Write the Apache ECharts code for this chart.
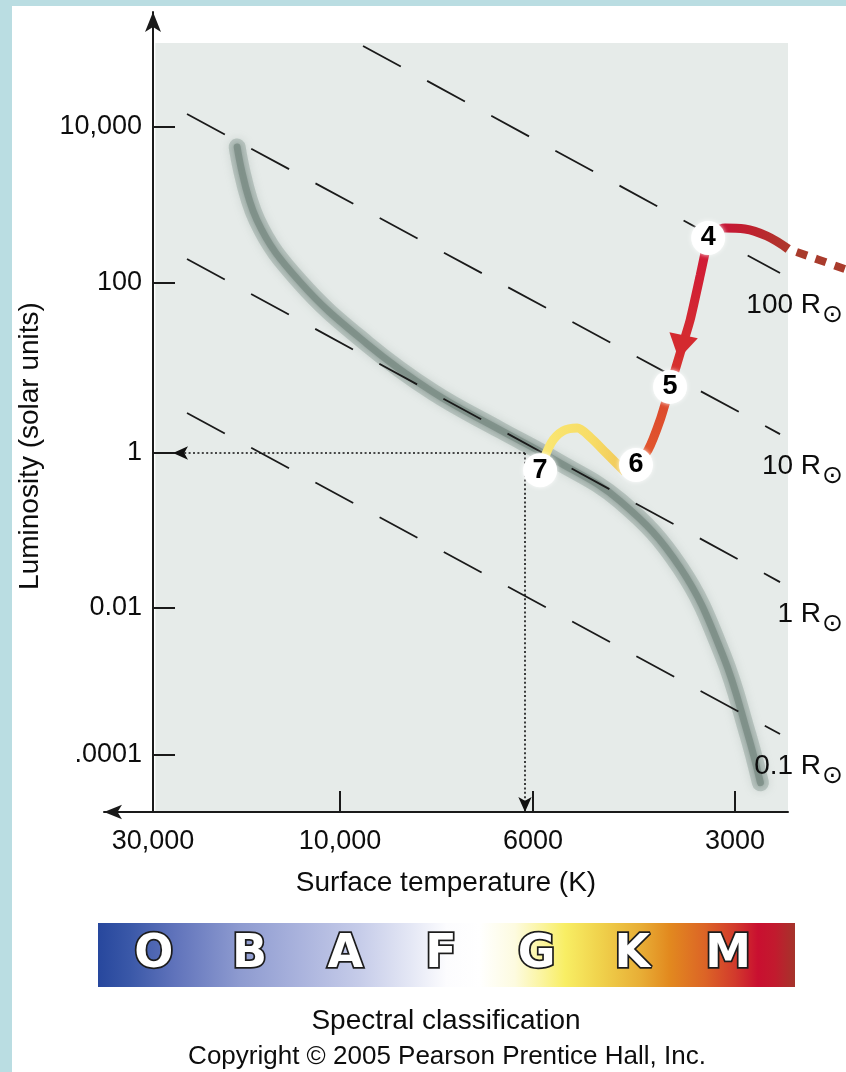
<!DOCTYPE html>
<html>
<head>
<meta charset="utf-8">
<script src="https://cdn.jsdelivr.net/npm/echarts@6.0.0/dist/echarts.min.js"></script>
<style>
  html, body { margin: 0; padding: 0; background: #fff; }
  #frame { position: absolute; left: 0; top: 0; width: 846px; height: 1072px; box-sizing: border-box;
           border-left: 12px solid #badde2; border-top: 6px solid #badde2; }
  #chart { position: absolute; left: 0; top: 0; width: 846px; height: 1072px; }
</style>
</head>
<body>
<div id="frame"></div>
<div id="chart"></div>
<script>
// axis ticks
const tempTicks = [30000, 10000, 6000, 3000];
const tempTickLabels = ['30,000', '10,000', '6000', '3000'];
const lumTicks = [10000, 100, 1, 0.01, 0.0001];
const lumTickLabels = ['10,000', '100', '1', '0.01', '.0001'];

// main sequence band (K, solar units)
const mainSeqT = [18300, 16300, 12650, 9310, 7820, 6550, 5600, 4450, 3620, 3130, 2870, 2750];
const mainSeqL = [5540, 642, 103, 19.2, 5.2, 1.87, 0.84, 0.24, 0.033, 0.0023, 0.000187, 0.000042];

// lines of constant radius (straight in the figure)
const radiusLabels = ['100 R', '10 R', '1 R', '0.1 R'];
const radiusStartT = [9410, 24570, 24570, 24570];
const radiusStartL = [109300, 14680, 203, 2.96];
const radiusEndT = [2571, 2571, 2571, 2571];
const radiusEndL = [134, 1.67, 0.0216, 0.000193];

// evolutionary track, stages 3 -> 7
const track3T = [2500, 2040];
const track3L = [273, 147];
const track34T = [2500, 2690, 2900, 3105, 3290];
const track34L = [273, 400, 493, 507, 378];
const track45T = [3290, 3380, 3500, 3610, 3750];
const track45L = [378, 127, 36.7, 16.3, 6.0];
const track56T = [3750, 3880, 4045, 4215];
const track56L = [6.0, 2.45, 1.08, 0.70];
const track67T = [4376, 4670, 4934, 5159, 5413, 5640, 5857];
const track67L = [0.57, 1.0, 1.54, 1.97, 1.82, 1.31, 0.60];
const arrowT = [3610];
const arrowL = [17.7];

const stageT = [3290, 3750, 4215, 5857];
const stageL = [378, 6.0, 0.70, 0.60];
const stageLabels = ['4', '5', '6', '7'];

// dotted guide to the axes (Sun-like star)
const guideT = 6130;
const guideL = 1;

const spectralClasses = ['O', 'B', 'A', 'F', 'G', 'K', 'M'];

// the figure's axes are not true log scales: the labelled ticks sit at these axis units
const tempTickPos = [0, 0.964, 1.959, 3.0];
const lumTickPos = [4.0, 2.012, -0.155, -2.13, -4.003];
const X_MIN = -0.2526, X_MAX = 3.2728, X_OFF = 3.5717;
const Y_MIN = -4.7295, Y_MAX = 5.4655, PLOT_TOP = 5.0705;

function interp(v, nodes, pos) {
  let i = 0;
  while (i < nodes.length - 2 && v < nodes[i + 1]) i++;
  const t = (v - nodes[i]) / (nodes[i + 1] - nodes[i]);
  return pos[i] + t * (pos[i + 1] - pos[i]);
}
const logTempTicks = tempTicks.map(Math.log10);
const logLumTicks = lumTicks.map(Math.log10);
const xPos = T => interp(Math.log10(T), logTempTicks, tempTickPos);
const yPos = L => interp(Math.log10(L), logLumTicks, lumTickPos);
const toXY = (T, L) => T.map((t, i) => [xPos(t), yPos(L[i])]);
const tickText = (v, pos, labels) => {
  const i = pos.findIndex(p => Math.abs(p - v) < 1e-6);
  return i < 0 ? '' : labels[i];
};

const FONT = 'Liberation Sans';
const INK = '#0d0d0d';

const trackLine = (T, L, color, extra) => Object.assign({
  type: 'line', data: toXY(T, L), smooth: 0.4, showSymbol: false, silent: true, z: 4, clip: false,
  lineStyle: { color: color, width: 9 }
}, extra || {});

const grad = (x2, y2, stops) => new echarts.graphic.LinearGradient(0, 0, x2, y2,
  stops.map(s => ({ offset: s[0], color: s[1] })));

const chart = echarts.init(document.getElementById('chart'));

const radiusSeries = radiusLabels.map((r, i) => ({
  type: 'line', silent: true, showSymbol: false, z: 3,
  data: [[xPos(radiusStartT[i]), yPos(radiusStartL[i])], [xPos(radiusEndT[i]), yPos(radiusEndL[i])]],
  lineStyle: { color: '#1a1a1a', width: 1.8, type: [43, 30] }
}));

const mainSeqData = toXY(mainSeqT, mainSeqL);

chart.setOption({
  animation: false,
  grid: [
    { left: 104, right: 58, top: 12, bottom: 260, outerBoundsMode: 'none' },
    { left: 106, width: 670, top: 923, height: 64, outerBoundsMode: 'none' },
    { left: 788, right: 0, top: 12, bottom: 260, outerBoundsMode: 'none' }
  ],
  xAxis: [{
    type: 'value', gridIndex: 0, min: X_MIN, max: X_MAX, z: 5,
    name: 'Surface temperature (K)', nameLocation: 'middle', nameGap: 57,
    nameTextStyle: { fontFamily: FONT, fontSize: 28, color: INK },
    axisLine: { onZero: false, symbol: ['arrow', 'none'], symbolSize: [11, 18],
                lineStyle: { color: '#1a1a1a', width: 2 } },
    axisTick: { inside: true, length: 21, customValues: tempTickPos, lineStyle: { color: '#1a1a1a', width: 2 } },
    axisLabel: { customValues: tempTickPos, margin: 16, fontFamily: FONT, fontSize: 27, color: INK,
                 formatter: v => tickText(v, tempTickPos, tempTickLabels) },
    splitLine: { show: false }
  }, {
    type: 'category', gridIndex: 1, data: spectralClasses, show: false
  }, {
    type: 'value', gridIndex: 2, min: X_MAX, max: X_OFF, show: false
  }],
  yAxis: [{
    type: 'value', gridIndex: 0, min: Y_MIN, max: Y_MAX, z: 5,
    axisLine: { onZero: true, symbol: ['none', 'arrow'], symbolSize: [12, 20],
                lineStyle: { color: '#1a1a1a', width: 2 } },
    axisTick: { inside: true, length: 22, customValues: lumTickPos, lineStyle: { color: '#1a1a1a', width: 2 } },
    // labels stay anchored to the grid edge, so pull them in towards the shifted axis line
    axisLabel: { customValues: lumTickPos, margin: -38, fontFamily: FONT, fontSize: 27, color: INK,
                 formatter: v => tickText(v, lumTickPos, lumTickLabels) },
    splitLine: { show: false }
  }, {
    type: 'value', gridIndex: 1, min: 0, max: 1, show: false
  }, {
    type: 'value', gridIndex: 2, min: Y_MIN, max: Y_MAX, show: false
  }],
  graphic: [
    { type: 'rect', z: 1, silent: true, shape: { x: 98, y: 923, width: 697, height: 64 },
      style: { fill: grad(1, 0, [
        [0, '#27479d'], [0.046, '#3a58a8'], [0.11, '#6073bb'], [0.204, '#8e9bd0'], [0.29, '#aab3dd'],
        [0.376, '#c6cce9'], [0.448, '#e4e7f5'], [0.5, '#fcfcfe'], [0.548, '#ffffff'], [0.598, '#fdfbe0'],
        [0.634, '#fbf5a4'], [0.67, '#f8ee64'], [0.72, '#f0d24c'], [0.778, '#e8ae36'], [0.82, '#e2891f'],
        [0.871, '#dc6426'], [0.914, '#d23a2c'], [0.947, '#c90f30'], [0.971, '#c21a2e'], [1, '#a5342b']
      ]) } },
    { type: 'text', x: 30, y: 446, rotation: Math.PI / 2, silent: true,
      style: { text: 'Luminosity (solar units)', font: '28px "Liberation Sans"', fill: INK,
               align: 'center', verticalAlign: 'middle', textAlign: 'center', textVerticalAlign: 'middle' } },
    { type: 'text', x: 446, y: 1021, silent: true,
      style: { text: 'Spectral classification', font: '28px "Liberation Sans"', fill: INK,
               align: 'center', verticalAlign: 'middle', textAlign: 'center', textVerticalAlign: 'middle' } },
    { type: 'text', x: 447, y: 1057, silent: true,
      style: { text: 'Copyright \u00a9 2005 Pearson Prentice Hall, Inc.', font: '26px "Liberation Sans"', fill: INK,
               align: 'center', verticalAlign: 'middle', textAlign: 'center', textVerticalAlign: 'middle' } }
  ],
  series: [
    { type: 'line', data: [], z: 1, silent: true,
      markArea: { silent: true, itemStyle: { color: '#e6ebe9' },
                  data: [[{ coord: [0.012, Y_MIN] }, { coord: [X_MAX, PLOT_TOP] }]] } },
    // soft halo + core of the main sequence band
    { type: 'line', data: mainSeqData, smooth: 0.4, showSymbol: false, silent: true, z: 2,
      lineStyle: { color: 'rgba(140,158,151,0.45)', width: 17, cap: 'round',
                   shadowBlur: 8, shadowColor: 'rgba(140,158,151,0.6)' } },
    { type: 'line', data: mainSeqData, smooth: 0.4, showSymbol: false, silent: true, z: 2,
      lineStyle: { color: 'rgba(122,140,133,0.8)', width: 7, cap: 'round',
                   shadowBlur: 5, shadowColor: 'rgba(122,140,133,0.8)' } },
    ...radiusSeries,
    { type: 'scatter', z: 3, silent: true, symbolSize: 0, itemStyle: { opacity: 1 },
      data: radiusLabels.map((r, i) => [xPos(radiusEndT[i]), yPos(radiusEndL[i])]),
      label: { show: true, position: 'inside', align: 'right', verticalAlign: 'middle', offset: [63, 37],
               textBorderWidth: 0,
               formatter: p => '{r|' + radiusLabels[p.dataIndex] + '}{s|\u2299}',
               rich: {
                 r: { fontFamily: FONT, fontSize: 28, color: INK, lineHeight: 28, padding: [0, 0, 10, 0], textBorderWidth: 0 },
                 s: { fontFamily: 'DejaVu Sans', fontSize: 25, color: INK, lineHeight: 25, padding: [12, 0, 1, 1], textBorderWidth: 0 }
               } } },
    { type: 'line', data: [], z: 3, silent: true, clip: false,
      markLine: { silent: true, symbol: ['none', 'arrow'], symbolSize: [10, 15], label: { show: false },
                  lineStyle: { color: '#111', width: 1.6, type: [2, 2.4] },
                  data: [
                    [{ coord: [xPos(guideT), yPos(guideL)] }, { coord: [0.103, yPos(guideL)] }],
                    [{ coord: [xPos(guideT), yPos(guideL)] }, { coord: [xPos(guideT), Y_MIN] }]
                  ] } },
    trackLine(track3T, track3L, '#a93b2c', { xAxisIndex: 2, yAxisIndex: 2,
      lineStyle: { color: '#a93b2c', width: 8, type: [11, 9], dashOffset: 11 } }),
    trackLine(track34T, track34L, grad(1, 0, [[0, '#cc0f3c'], [0.5, '#c0202f'], [1, '#ab3a2b']])),
    trackLine(track45T, track45L, grad(0, 1, [[0, '#cf1637'], [1, '#d7362d']]), { smooth: 0.2 }),
    trackLine(track56T, track56L, grad(0, 1, [[0, '#da442c'], [1, '#e35a2e']]), { smooth: 0.2 }),
    trackLine(track67T, track67L, grad(1, 0, [[0, '#fae874'], [0.6, '#f7dc66'], [1, '#efc458']]), { smooth: 0.3 }),
    { type: 'scatter', z: 4, silent: true, data: toXY(arrowT, arrowL),
      symbol: 'triangle', symbolSize: [29, 24], symbolRotate: 168, itemStyle: { color: '#d42a2f', opacity: 1 } },
    { type: 'scatter', z: 6, silent: true, data: toXY(stageT, stageL), symbolSize: 34,
      itemStyle: { color: '#ffffff', opacity: 1, shadowBlur: 4, shadowColor: 'rgba(255,255,255,0.9)' },
      label: { show: true, position: 'inside', formatter: p => stageLabels[p.dataIndex],
               fontFamily: FONT, fontSize: 27, fontWeight: 'bold', color: '#000', textBorderWidth: 0 } },
    { type: 'scatter', xAxisIndex: 1, yAxisIndex: 1, z: 3, silent: true, symbolSize: 0, itemStyle: { opacity: 1 },
      data: spectralClasses.map(c => [c, 0.5]),
      label: { show: true, position: 'inside', formatter: p => p.value[0],
               fontFamily: 'DejaVu Sans', fontSize: 46, fontWeight: 'bold', color: '#ffffff',
               textBorderColor: '#1c1c1c', textBorderWidth: 3.5 } }
  ]
});
</script>
</body>
</html>
